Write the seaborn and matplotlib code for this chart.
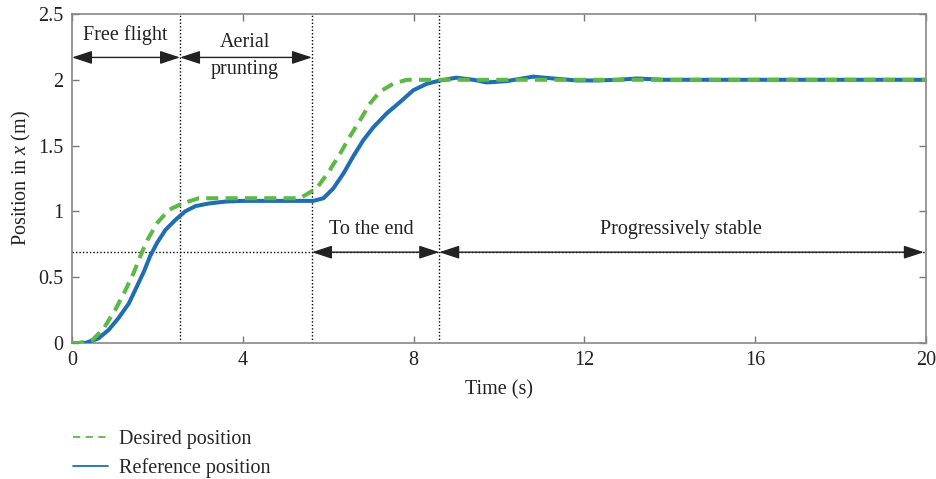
import numpy as np
import pandas as pd
import seaborn as sns
import matplotlib
matplotlib.use("Agg")
import matplotlib.pyplot as plt
from matplotlib.lines import Line2D

# ---------------- data ----------------
desired_t = [0, 0.16, 0.47, 0.74, 1.01, 1.25, 1.44, 1.60, 1.76, 1.99, 2.26, 2.58, 2.97,
             3.5, 4.0, 5.0, 5.34, 5.73, 6.04, 6.28, 6.51, 6.74, 6.98, 7.21, 7.52, 7.84,
             8.5, 20]
desired_x = [0, 0, 0.02, 0.11, 0.25, 0.40, 0.53, 0.66, 0.78, 0.91, 1.01, 1.06, 1.10,
             1.10, 1.10, 1.10, 1.10, 1.175, 1.315, 1.44, 1.57, 1.69, 1.82, 1.91, 1.97, 2.0,
             2.0, 2.0]

ref_t = [0, 0.31, 0.62, 0.86, 1.09, 1.33, 1.52, 1.68, 1.83, 1.99, 2.19, 2.42, 2.65, 2.89,
         3.2, 3.6, 4.0, 5.0, 5.65, 5.89, 6.12, 6.36, 6.59, 6.82, 7.06, 7.37, 7.68, 7.99,
         8.31, 8.62, 9.0, 9.4, 9.71, 10.18, 10.8, 11.27, 11.82, 12.3, 12.76, 13.23, 13.86,
         15, 20]
ref_x = [0, 0, 0.035, 0.10, 0.19, 0.30, 0.43, 0.54, 0.66, 0.76, 0.86, 0.935, 1.0, 1.04,
         1.06, 1.075, 1.08, 1.08, 1.08, 1.10, 1.175, 1.29, 1.42, 1.54, 1.64, 1.745, 1.83,
         1.92, 1.97, 1.995, 2.016, 2.0, 1.98, 1.99, 2.024, 2.01, 1.995, 1.995, 2.0, 2.01,
         2.0, 2.0, 2.0]

phase_bounds = [2.53, 5.62, 8.6]
level_y = 0.69
top_arrow_y = 2.17
x_ticks = [0, 4, 8, 12, 16, 20]
y_ticks = [0, 0.5, 1, 1.5, 2, 2.5]
y_tick_labels = ["0", "0.5", "1", "1.5", "2", "2.5"]
series_labels = ["Desired position", "Reference position"]

GREEN = "#5cb946"
BLUE = "#1f6db4"
INK = "#222222"

# ---------------- style ----------------
sns.set_style("ticks")
plt.rcParams["font.family"] = ["Liberation Serif", "DejaVu Serif"]
plt.rcParams["mathtext.fontset"] = "custom"
plt.rcParams["mathtext.rm"] = "Liberation Serif"
plt.rcParams["mathtext.it"] = "Liberation Serif:italic"
plt.rcParams["font.size"] = 14.5

fig = plt.figure(figsize=(9.36, 4.79), dpi=100)
ax = fig.add_axes([72 / 936, 1 - 343 / 479, (926 - 72) / 936, (343 - 14) / 479])

df_des = pd.DataFrame({"t": desired_t, "x": desired_x})
df_ref = pd.DataFrame({"t": ref_t, "x": ref_x})

sns.lineplot(data=df_ref, x="t", y="x", ax=ax, color=BLUE, lw=2.9,
             estimator=None, sort=False, zorder=3)
sns.lineplot(data=df_des, x="t", y="x", ax=ax, color=GREEN, lw=2.9,
             estimator=None, sort=False, zorder=4)
for ln in ax.lines:
    ln.set_solid_joinstyle("round")
    ln.set_dash_joinstyle("round")
ax.lines[-1].set_dashes((3, 1.8))

# vertical phase separators
for xb in phase_bounds:
    ax.axvline(xb, color="black", lw=1.0, ls=(0, (1, 1.5)), zorder=2)
# horizontal dotted level
ax.plot([0, 20], [level_y, level_y], color="black", lw=1.0, ls=(0, (1, 1.5)), zorder=2)

arrow_kw = dict(arrowstyle="<|-|>,head_length=0.85,head_width=0.28",
                color=INK, lw=1.0, shrinkA=0, shrinkB=0)
# top arrows
ax.annotate("", xy=(0, top_arrow_y), xytext=(phase_bounds[0], top_arrow_y), arrowprops=arrow_kw)
ax.annotate("", xy=(phase_bounds[0], top_arrow_y), xytext=(phase_bounds[1], top_arrow_y),
            arrowprops=arrow_kw)
# bottom arrows
ax.annotate("", xy=(phase_bounds[1], level_y), xytext=(phase_bounds[2], level_y), arrowprops=arrow_kw)
ax.annotate("", xy=(phase_bounds[2], level_y), xytext=(20 - 0.05, level_y), arrowprops=arrow_kw)

fs = 14.5
ax.text(1.24, 2.34, "Free flight", ha="center", va="center", fontsize=fs, color=INK)
ax.text(4.05, 2.28, "Aerial", ha="center", va="center", fontsize=fs, color=INK)
ax.text(4.05, 2.075, "prunting", ha="center", va="center", fontsize=fs, color=INK)
ax.text(7.0, 0.865, "To the end", ha="center", va="center", fontsize=fs, color=INK)
ax.text(14.25, 0.865, "Progressively stable", ha="center", va="center", fontsize=fs, color=INK)

ax.set_xlim(0, 20)
ax.set_ylim(0, 2.5)
ax.set_xticks(x_ticks)
ax.set_xticklabels([str(v) for v in x_ticks])
ax.set_yticks(y_ticks)
ax.set_yticklabels(y_tick_labels)
ax.tick_params(direction="in", length=5, width=1, color="#777777", top=True, right=True,
               labelsize=14.5, labelcolor=INK, pad=6)
for s in ax.spines.values():
    s.set_visible(True)
    s.set_color("#888888")
    s.set_linewidth(1.2)

ax.set_xlabel("Time (s)", fontsize=14.5, color=INK, labelpad=7)
ax.set_ylabel("Position in $x$ (m)", fontsize=14.5, color=INK, labelpad=4)

handles = [Line2D([], [], color=GREEN, lw=1.3, dashes=(4, 3)),
           Line2D([], [], color=BLUE, lw=1.3)]
fig.legend(handles, series_labels, loc="upper left",
           bbox_to_anchor=(65 / 936, 1 - 422 / 479), frameon=False, fontsize=14.5,
           handlelength=1.75, handletextpad=0.55, labelspacing=0.45, borderaxespad=0)

fig.savefig("out.png", dpi=100)
